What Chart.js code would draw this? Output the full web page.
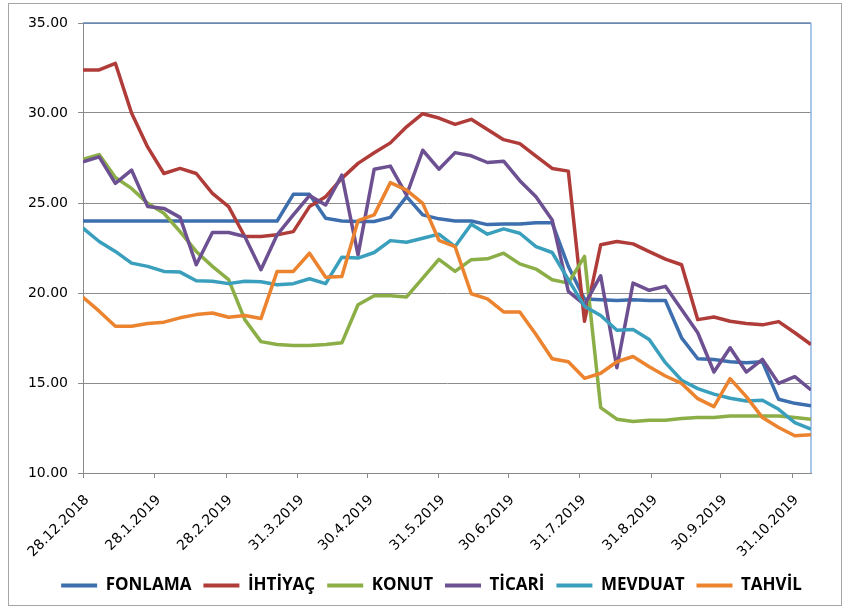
<!DOCTYPE html>
<html lang="tr">
<head>
<meta charset="UTF-8">
<title>Faiz oranları</title>
<script src="https://cdn.jsdelivr.net/npm/chart.js"></script>
<style>
    body { margin: 0; background: #fff; }
    #wrap { position: relative; width: 844px; height: 608px; }
    #frame {
        position: absolute; left: 8px; top: 3px; width: 832px; height: 601px;
        border: 1px solid #a6a6a6; pointer-events: none;
    }
    #chart { position: absolute; left: 0; top: 0; }
</style>
</head>
<body>
<div id="wrap">
    <canvas id="chart" width="844" height="608"></canvas>
    <div id="frame"></div>
</div>
<script>
// weekly observation dates
const dates = [
    '28.12.2018', '4.1.2019', '11.1.2019', '18.1.2019', '25.1.2019', '1.2.2019', '8.2.2019',
    '15.2.2019', '22.2.2019', '1.3.2019', '8.3.2019', '15.3.2019', '22.3.2019', '29.3.2019',
    '5.4.2019', '12.4.2019', '19.4.2019', '26.4.2019', '3.5.2019', '10.5.2019', '17.5.2019',
    '24.5.2019', '31.5.2019', '7.6.2019', '14.6.2019', '21.6.2019', '28.6.2019', '5.7.2019',
    '12.7.2019', '19.7.2019', '26.7.2019', '2.8.2019', '9.8.2019', '16.8.2019', '23.8.2019',
    '30.8.2019', '6.9.2019', '13.9.2019', '20.9.2019', '27.9.2019', '4.10.2019', '11.10.2019',
    '18.10.2019', '25.10.2019', '1.11.2019', '8.11.2019'
];

// axis labels shown under the x axis
const tickLabels = [
    '28.12.2018', '28.1.2019', '28.2.2019', '31.3.2019', '30.4.2019', '31.5.2019',
    '30.6.2019', '31.7.2019', '31.8.2019', '30.9.2019', '31.10.2019'
];

const fonlama = [
    24.0, 24.0, 24.0, 24.0, 24.0, 24.0, 24.0, 24.0, 24.0, 24.0, 24.0, 24.0, 24.0,
    25.48, 25.48, 24.15, 24.0, 23.97, 23.97, 24.2, 25.35, 24.34, 24.12, 24.0, 24.0,
    23.8, 23.84, 23.84, 23.9, 23.9, 21.48, 19.67, 19.63, 19.58, 19.63, 19.58, 19.58,
    17.51, 16.35, 16.31, 16.18, 16.13, 16.18, 14.1, 13.87, 13.73
];
const ihtiyac = [
    32.39, 32.39, 32.76, 30.0, 28.1, 26.64, 26.92, 26.64, 25.53, 24.8,
    23.14, 23.14, 23.23, 23.41, 24.8, 25.35, 26.37, 27.2, 27.79, 28.34,
    29.23, 29.96, 29.72, 29.37, 29.65, 29.08, 28.52, 28.3, 27.6, 26.92,
    26.77, 18.43, 22.68, 22.86, 22.73, 22.3, 21.88, 21.57, 18.52, 18.67,
    18.43, 18.3, 18.23, 18.41, 17.79, 17.14
];
const konut = [
    27.42, 27.69, 26.42, 25.81, 24.98, 24.43, 23.41, 22.31, 21.48, 20.74,
    18.52, 17.3, 17.14, 17.08, 17.08, 17.14, 17.23, 19.35, 19.85, 19.85,
    19.78, 20.83, 21.87, 21.2, 21.85, 21.9, 22.21, 21.62, 21.33, 20.74,
    20.55, 22.03, 13.63, 12.99, 12.86, 12.93, 12.93, 13.03, 13.08, 13.08,
    13.17, 13.17, 13.17, 13.17, 13.08, 12.99
];
const ticari = [
    27.29, 27.56, 26.09, 26.83, 24.8, 24.7, 24.2, 21.57, 23.36, 23.36,
    23.14, 21.29, 23.23, 24.34, 25.41, 24.89, 26.55, 22.12, 26.88, 27.05,
    25.44, 27.93, 26.88, 27.8, 27.62, 27.25, 27.32, 26.24, 25.35, 24.06,
    20.09, 19.35, 20.96, 15.85, 20.55, 20.15, 20.37, 19.08, 17.79, 15.61,
    16.96, 15.61, 16.31, 14.98, 15.35, 14.61
];
const mevduat = [
    23.6, 22.86, 22.31, 21.66, 21.48, 21.2, 21.16, 20.68, 20.65, 20.52,
    20.65, 20.62, 20.46, 20.52, 20.79, 20.52, 21.99, 21.94, 22.25, 22.91,
    22.82, 23.04, 23.27, 22.58, 23.82, 23.27, 23.56, 23.32, 22.58, 22.25,
    20.74, 19.26, 18.75, 17.93, 17.97, 17.42, 16.13, 15.15, 14.69, 14.38,
    14.15, 14.0, 14.04, 13.54, 12.8, 12.44
];
const tahvil = [
    19.76, 18.99, 18.15, 18.15, 18.3, 18.38, 18.62, 18.8, 18.89, 18.65,
    18.75, 18.58, 21.2, 21.2, 22.21, 20.87, 20.92, 24.02, 24.34, 26.13,
    25.72, 24.98, 22.93, 22.58, 19.96, 19.67, 18.95, 18.95, 17.69, 16.35,
    16.18, 15.26, 15.54, 16.18, 16.47, 15.9, 15.39, 14.98, 14.13, 13.69,
    15.24, 14.24, 13.08, 12.53, 12.07, 12.12
];

const seriesNames = ['FONLAMA', 'İHTİYAÇ', 'KONUT', 'TİCARİ', 'MEVDUAT', 'TAHVİL'];
const seriesValues = [fonlama, ihtiyac, konut, ticari, mevduat, tahvil];
const seriesColors = ['#3d6fae', '#b03c39', '#8bae47', '#6c5091', '#3a9fbd', '#eb832f'];

// day number counted from the first date
function dayOf(s) {
    const p = s.split('.').map(Number);
    return Date.UTC(p[2], p[1] - 1, p[0]) / 86400000;
}
const day0 = dayOf(dates[0]);
const xDays = dates.map(d => dayOf(d) - day0);
const tickDays = tickLabels.map(d => dayOf(d) - day0);

const datasets = seriesNames.map((name, i) => ({
    label: name,
    data: seriesValues[i].map((v, j) => ({ x: xDays[j], y: v })),
    borderColor: seriesColors[i],
    backgroundColor: seriesColors[i],
    borderWidth: 3.5,
    borderJoinStyle: 'round',
    pointRadius: 0,
    tension: 0,
    order: seriesNames.length - i
}));

// plot frame: blue top and right edge like the original
const frameEdges = {
    id: 'frameEdges',
    beforeDatasetsDraw(chart) {
        const a = chart.chartArea;
        const ctx = chart.ctx;
        ctx.save();
        ctx.lineWidth = 1.5;
        ctx.strokeStyle = '#6686b4';
        ctx.beginPath();
        ctx.moveTo(a.left, a.top);
        ctx.lineTo(a.right, a.top);
        ctx.stroke();
        ctx.strokeStyle = '#8fb3e0';
        ctx.beginPath();
        ctx.moveTo(a.right, a.top);
        ctx.lineTo(a.right, a.bottom);
        ctx.stroke();
        ctx.restore();
    }
};

// legend sits a bit right of the canvas centre in the original
const legendShift = {
    id: 'legendShift',
    afterLayout(chart) {
        chart.legend.left += 26;
        chart.legend.right += 26;
    }
};

const PAD_BOTTOM = 4;

new Chart(document.getElementById('chart'), {
    type: 'line',
    data: { datasets: datasets },
    plugins: [frameEdges, legendShift],
    options: {
        responsive: false,
        animation: false,
        devicePixelRatio: 1,
        layout: { padding: { left: 0, right: 33, top: 23, bottom: PAD_BOTTOM } },
        plugins: {
            tooltip: { enabled: false },
            legend: {
                position: 'bottom',
                labels: {
                    boxWidth: 36,
                    boxHeight: 4,
                    padding: 12,
                    color: '#000',
                    font: { family: 'Open Sans', size: 17, weight: 'bold' },
                    sort: (a, b) => a.datasetIndex - b.datasetIndex,
                    generateLabels(chart) {
                        const items = Chart.defaults.plugins.legend.labels.generateLabels(chart);
                        items.forEach(it => { it.lineWidth = 0; it.fillStyle = it.strokeStyle; });
                        return items;
                    }
                }
            }
        },
        scales: {
            x: {
                type: 'linear',
                min: 0,
                max: xDays[xDays.length - 1],
                afterFit(s) { s.height = 608 - PAD_BOTTOM - s.chart.legend.height - 473; },
                afterBuildTicks(s) { s.ticks = tickDays.map(v => ({ value: v })); },
                grid: { drawOnChartArea: false, drawTicks: true, tickLength: 5, color: '#8a8a8a' },
                border: { color: '#8a8a8a', width: 1 },
                ticks: {
                    autoSkip: false,
                    minRotation: 45,
                    maxRotation: 45,
                    padding: 14,
                    labelOffset: 4,
                    color: '#000',
                    font: { family: 'DejaVu Sans', size: 14 },
                    callback: (v, i) => tickLabels[i]
                }
            },
            y: {
                min: 10,
                max: 35,
                afterFit(s) { s.width = 83; },
                grid: { color: '#8c8c8c', lineWidth: 1, tickLength: 5 },
                border: { color: '#8a8a8a', width: 1 },
                ticks: {
                    stepSize: 5,
                    padding: 10,
                    color: '#000',
                    font: { family: 'DejaVu Sans', size: 14 },
                    callback: v => v.toFixed(2)
                }
            }
        }
    }
});
</script>
</body>
</html>
